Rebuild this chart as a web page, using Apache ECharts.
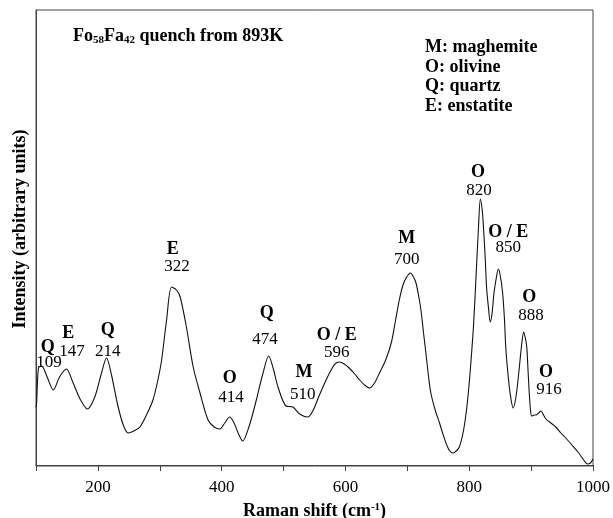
<!DOCTYPE html>
<html><head><meta charset="utf-8">
<script src="https://cdn.jsdelivr.net/npm/echarts@6/dist/echarts.min.js"></script>
<style>html,body{margin:0;padding:0;background:#fff}#c{width:613px;height:518px}</style>
</head><body><div id="c"></div>
<script>
// Raman spectrum (x: Raman shift cm-1, y: intensity in arbitrary units)
const ramanShift = [100,101,104,109,118,128,138,149,160,172,183,195,205,214,222,232,241,249,258,268,280,289,297,303,311,319,327,333,343,354,365,378,388,397,405,413,420,428,434,445,456,466,476,484,491,504,515,526,539,548,558,571,577,583,590,598,606,615,623,631,639,647,655,665,674,681,687,693,698,705,710,714,718,722,726,730,734,738,745,752,758,765,770,774,779,784,790,795,799,803,807,811,815,818,821,823,826,828,831,834,837,840,844,847,850,854,857,859,862,866,871,876,881,885,888,891,893,895,897,899,901,905,908,912,916,920,924,932,940,948,956,966,977,985,991,996,1000];
const intensity = [58,62,97,99,88,75,88,96,82,65,56,68,90,107,90,60,40,32,34,38,52,65,85,105,145,178,175,168,138,98,72,45,38,36,42,48,42,30,24,40,65,90,109,95,78,59,58,51,48,55,70,88,95,101,103,101,97,91,85,80,77,82,92,105,122,145,165,180,187,192,188,182,170,155,133,112,90,72,55,42,30,18,13,12,14,18,32,52,75,105,140,188,238,266,255,238,205,178,158,143,152,172,188,196,190,172,145,118,95,72,57,70,98,122,133,126,118,95,72,55,49,50,50,52,54,50,46,42,38,32,27,20,12,5,1,2,6];

// Peak annotations
const peakLetters = ['Q','E','Q','E','O','Q','M','O / E','M','O','O / E','O','O'];
const peakNumbers = ['109','147','214','322','414','474','510','596','700','820','850','888','916'];
const letterX = [119,152,216,321,413,473,533,586,699,814,863,897,924];
const letterY = [118,132,135,216,87,152,93,130,227,293,233,168,93];
const numberX = [121,158,216,328,415,470,531,586,699,816,863,900,929];
const numberY = [102,113,113,198,67,125,70,112,205,274,217,149,75];

const keyLines = ['M: maghemite','O: olivine','Q: quartz','E: enstatite'];
const xTickLabels = [200,400,600,800,1000];

const serif = '"Liberation Serif","DejaVu Serif",serif';
const chart = echarts.init(document.getElementById('c'));
const lineData = ramanShift.map((x,i)=>[x,intensity[i]]);
const letterData = peakLetters.map((t,i)=>({value:[letterX[i],letterY[i]],name:t}));
const numberData = peakNumbers.map((t,i)=>({value:[numberX[i],numberY[i]],name:t}));
const keyY = [47,67,86,106];

chart.setOption({
  animation:false,
  backgroundColor:'#fff',
  grid:{left:36,right:20,top:10,bottom:52,outerBoundsMode:'none',containLabel:false,show:true,borderColor:'#444',borderWidth:1,backgroundColor:'transparent'},
  title:{
    text:'{b|Fo}{s|58}{b|Fa}{s|42}{b| quench from 893K}',
    left:68,top:21,
    textStyle:{rich:{
      b:{fontFamily:serif,fontWeight:'bold',fontSize:18,color:'#000'},
      s:{fontFamily:serif,fontWeight:'bold',fontSize:11,color:'#000',verticalAlign:'bottom',padding:[9,0,0,0]}
    }}
  },
  graphic: keyLines.map((t,i)=>({type:'text',x:425,y:keyY[i],style:{text:t,font:'bold 18px '+serif,fill:'#000',verticalAlign:'middle'}}))
    .concat([{type:'text',x:20,y:229,rotation:Math.PI/2,style:{text:'Intensity (arbitrary units)',font:'bold 18px '+serif,fill:'#000',align:'center',verticalAlign:'middle'}}]),
  xAxis:{
    type:'value',min:100,max:1000,interval:100,
    axisLine:{lineStyle:{color:'#444'}},
    axisTick:{show:true,inside:false,length:6,lineStyle:{color:'#444'}},
    splitLine:{show:false},
    axisLabel:{color:'#000',fontFamily:serif,fontSize:17,margin:13,
      formatter:v=>xTickLabels.includes(v)?String(v):''},
    name:'{b|Raman shift (cm}{s|-1}{b|)}',nameLocation:'middle',nameGap:36,
    nameTextStyle:{rich:{
      b:{fontFamily:serif,fontWeight:'bold',fontSize:18,color:'#000'},
      s:{fontFamily:serif,fontWeight:'bold',fontSize:11,color:'#000',verticalAlign:'top',padding:[0,0,8,0]}
    }}
  },
  yAxis:{
    type:'value',min:-1,max:455,
    axisLine:{show:true,lineStyle:{color:'#444'}},
    axisTick:{show:false},axisLabel:{show:false},splitLine:{show:false}
  },
  series:[
    {type:'line',data:lineData,smooth:0.3,showSymbol:false,lineStyle:{color:'#111',width:1.1},silent:true},
    {type:'scatter',data:letterData,symbolSize:0,silent:true,itemStyle:{opacity:1},
      label:{show:true,position:'inside',formatter:p=>p.name,fontFamily:serif,fontWeight:'bold',fontSize:18,color:'#000',opacity:1}},
    {type:'scatter',data:numberData,symbolSize:0,silent:true,itemStyle:{opacity:1},
      label:{show:true,position:'inside',formatter:p=>p.name,fontFamily:serif,fontSize:17,color:'#000',opacity:1}}
  ]
});
</script></body></html>
